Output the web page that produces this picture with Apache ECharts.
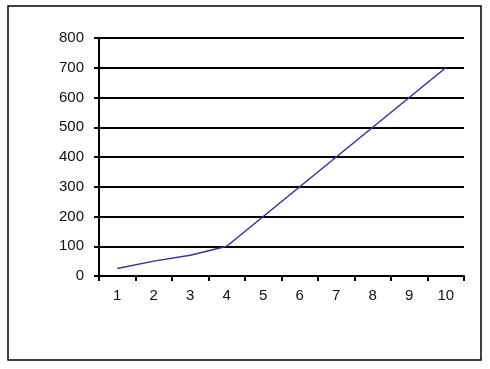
<!DOCTYPE html>
<html>
<head>
<meta charset="utf-8">
<script src="https://cdn.jsdelivr.net/npm/echarts@6/dist/echarts.min.js"></script>
<style>
html,body{margin:0;padding:0;background:#fff;}
#c{width:490px;height:369px;}
</style>
</head>
<body>
<div id="c"></div>
<script>
const categories = ['1','2','3','4','5','6','7','8','9','10'];
const values = [25, 50, 70, 100, 200, 300, 400, 500, 600, 700];
const yTicks = [0, 100, 200, 300, 400, 500, 600, 700, 800];

const chart = echarts.init(document.getElementById('c'), null, {renderer:'canvas'});
chart.setOption({
  backgroundColor: '#ffffff',
  animation: false,
  graphic: [{
    type: 'rect',
    shape: {x: 8, y: 6, width: 473, height: 354},
    style: {fill: 'none', stroke: '#000', lineWidth: 1.5},
    silent: true
  }],
  grid: {left: 99, right: 26, top: 38, bottom: 93, containLabel: false},
  xAxis: {
    type: 'category',
    data: categories,
    boundaryGap: true,
    axisLine: {lineStyle: {color: '#000', width: 2}},
    axisTick: {show: true, length: 5, lineStyle: {color: '#000', width: 2}, alignWithLabel: false},
    axisLabel: {color: '#111', fontSize: 15, fontFamily: 'Liberation Sans, Arial, sans-serif', margin: 12},
    splitLine: {show: false}
  },
  yAxis: {
    type: 'value',
    min: yTicks[0],
    max: yTicks[yTicks.length - 1],
    interval: 100,
    axisLine: {show: true, lineStyle: {color: '#000', width: 2}},
    axisTick: {show: true, length: 5, lineStyle: {color: '#000', width: 2}},
    axisLabel: {color: '#111', fontSize: 15, fontFamily: 'Liberation Sans, Arial, sans-serif', margin: 15},
    splitLine: {show: true, lineStyle: {color: '#000', width: 2}}
  },
  series: [{
    type: 'line',
    data: values,
    symbol: 'none',
    lineStyle: {color: '#333399', width: 1.5},
    z: 5
  }]
});
</script>
</body>
</html>
